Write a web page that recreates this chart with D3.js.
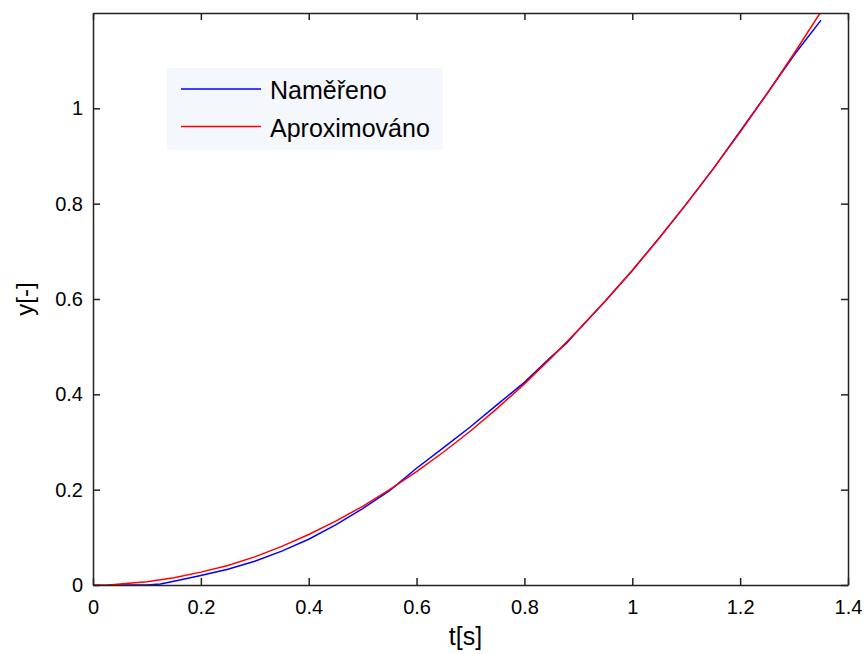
<!DOCTYPE html>
<html>
<head>
<meta charset="utf-8">
<script src="https://cdn.jsdelivr.net/npm/d3@7"></script>
<style>
  html, body { margin: 0; padding: 0; background: #ffffff; }
  svg { display: block; }
  text { font-family: "Liberation Sans", Arial, sans-serif; fill: #000; }
</style>
</head>
<body>
<svg id="chart" width="865" height="654"></svg>
<script>
// Measured response (stepped samples)
const measuredT = [0.027, 0.05, 0.10, 0.125, 0.15, 0.20, 0.25, 0.30, 0.35, 0.40, 0.45, 0.50,
  0.55, 0.60, 0.65, 0.70, 0.75, 0.80, 0.85, 0.878, 0.90, 0.95, 1.00, 1.05, 1.10, 1.15, 1.20, 1.25, 1.30, 1.35];
const measuredY = [0, 0, 0, 0.002, 0.008, 0.020, 0.033, 0.050, 0.071, 0.096, 0.126, 0.160,
  0.198, 0.245, 0.288, 0.332, 0.379, 0.425, 0.479, 0.507, 0.535, 0.596, 0.660, 0.728, 0.799, 0.873, 0.952, 1.031, 1.112, 1.185];

// Fitted approximation
const approxT = [0, 0.03, 0.05, 0.10, 0.15, 0.20, 0.25, 0.30, 0.35, 0.40, 0.45, 0.50, 0.55,
  0.60, 0.65, 0.70, 0.75, 0.80, 0.85, 0.90, 0.95, 1.00, 1.05, 1.10, 1.15, 1.20, 1.25, 1.30, 1.35];
const approxY = [0, 0, 0.002, 0.007, 0.015, 0.027, 0.041, 0.059, 0.081, 0.106, 0.134, 0.165, 0.200,
  0.238, 0.279, 0.323, 0.371, 0.422, 0.477, 0.535, 0.596, 0.660, 0.728, 0.799, 0.873, 0.950, 1.031, 1.115, 1.203];

const xTicks = [0, 0.2, 0.4, 0.6, 0.8, 1, 1.2, 1.4];
const yTicks = [0, 0.2, 0.4, 0.6, 0.8, 1];
const seriesNames = ["Naměřeno", "Aproximováno"];
const seriesColors = ["#0000ff", "#ff0000"];
const xLabel = "t[s]";
const yLabel = "y[-]";

const svg = d3.select("#chart");
const plotL = 93, plotR = 848, plotT = 13, plotB = 585;

const x = d3.scaleLinear().domain([0, 1.4]).range([plotL, plotR]);
const y = d3.scaleLinear().domain([0, 1.2]).range([plotB, plotT]);

svg.append("defs").append("clipPath").attr("id", "plotClip")
  .append("rect").attr("x", plotL).attr("y", plotT)
  .attr("width", plotR - plotL).attr("height", plotB - plotT);

const line = d3.line().x(d => x(d[0])).y(d => y(d[1]));

const plot = svg.append("g").attr("clip-path", "url(#plotClip)");
const measured = measuredT.map((t, i) => [t, measuredY[i]]);
const approx = approxT.map((t, i) => [t, approxY[i]]);

plot.append("path").datum(measured).attr("d", line)
  .attr("fill", "none").attr("stroke", seriesColors[0]).attr("stroke-width", 1.5);
plot.append("path").datum(approx).attr("d", line)
  .attr("fill", "none").attr("stroke", seriesColors[1]).attr("stroke-width", 1.5);

// Axes box with inward ticks on all sides
const axisColor = "#222";
const tickLen = 7;
const fmt = d => String(+d.toFixed(1));

const gx = svg.append("g").attr("transform", `translate(0,${plotB})`)
  .call(d3.axisBottom(x).tickValues(xTicks).tickSizeInner(-tickLen).tickSizeOuter(0).tickPadding(15).tickFormat(fmt));
const gxTop = svg.append("g").attr("transform", `translate(0,${plotT})`)
  .call(d3.axisTop(x).tickValues(xTicks).tickSizeInner(-tickLen).tickSizeOuter(0).tickFormat(""));
const gy = svg.append("g").attr("transform", `translate(${plotL},0)`)
  .call(d3.axisLeft(y).tickValues(yTicks).tickSizeInner(-tickLen).tickSizeOuter(0).tickPadding(10).tickFormat(fmt));
const gyRight = svg.append("g").attr("transform", `translate(${plotR},0)`)
  .call(d3.axisRight(y).tickValues(yTicks).tickSizeInner(-tickLen).tickSizeOuter(0).tickFormat(""));

[gx, gxTop, gy, gyRight].forEach(g => {
  g.select(".domain").attr("stroke", axisColor).attr("stroke-width", 1.5);
  g.selectAll(".tick line").attr("stroke", axisColor).attr("stroke-width", 1.5);
  g.selectAll(".tick text").attr("font-size", 20).attr("fill", "#000")
    .attr("font-family", "'Liberation Sans', Arial, sans-serif");
});
gx.selectAll(".tick text").attr("dy", "0.71em");

// Axis titles
svg.append("text").attr("x", (plotL + plotR) / 2 - 5).attr("y", 645)
  .attr("text-anchor", "middle").attr("font-size", 25).text(xLabel);
svg.append("text").attr("transform", `translate(33,${(plotT + plotB) / 2}) rotate(-90)`)
  .attr("text-anchor", "middle").attr("font-size", 24).text(yLabel);

// Legend
const legend = svg.append("g");
legend.append("rect").attr("x", 167).attr("y", 68).attr("width", 276).attr("height", 82)
  .attr("fill", "#f4f7fc");
seriesNames.forEach((name, i) => {
  const ly = 89 + i * 37.5;
  legend.append("line").attr("x1", 181).attr("x2", 261).attr("y1", ly).attr("y2", ly)
    .attr("stroke", seriesColors[i]).attr("stroke-width", 1.5);
  legend.append("text").attr("x", 270).attr("y", ly + 10).attr("font-size", 25).text(name);
});
</script>
</body>
</html>
